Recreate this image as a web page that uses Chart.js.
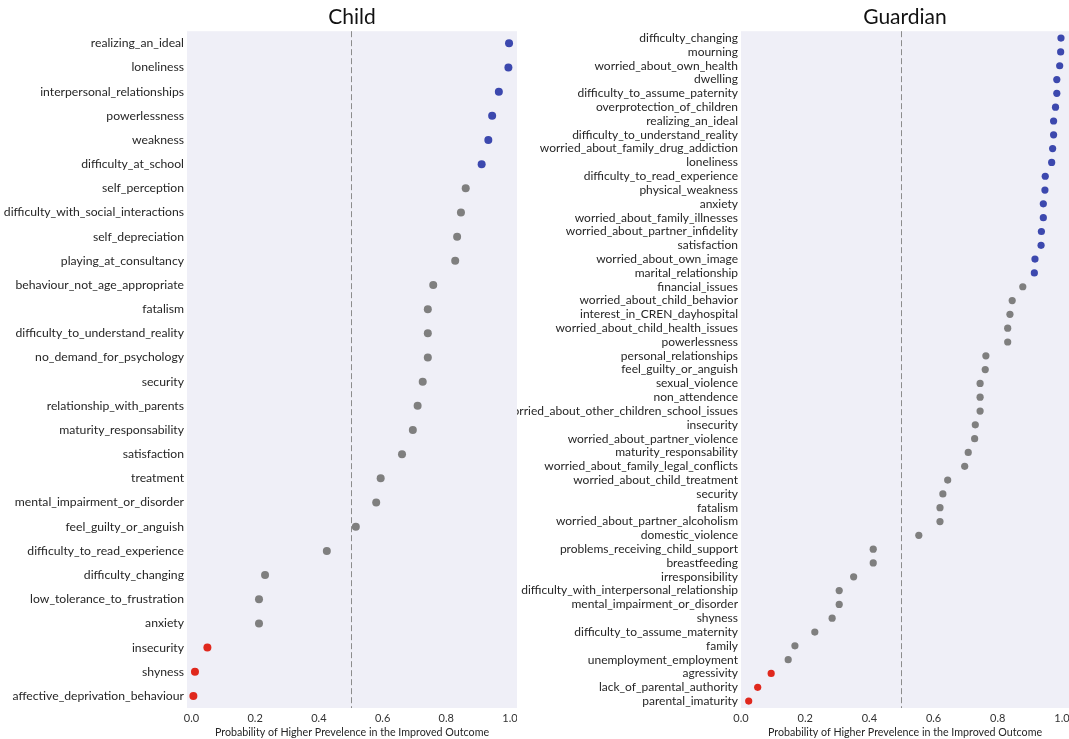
<!DOCTYPE html>
<html>
<head>
<meta charset="utf-8">
<script src="https://cdn.jsdelivr.net/npm/chart.js@4"></script>
<style>
  body { margin: 0; background: #fff; }
  #wrap { position: relative; width: 1069px; height: 739px; overflow: hidden; }
  .panel { position: absolute; top: 0; }
</style>
</head>
<body>
<div id="wrap">
  <div class="panel" style="left:0;width:517px;height:739px;"><canvas id="childChart" width="517" height="739"></canvas></div>
  <div class="panel" style="left:517px;width:552px;height:739px;"><canvas id="guardianChart" width="552" height="739"></canvas></div>
</div>
<script>
// Child panel
const childLabels = [
  "realizing_an_ideal", "loneliness", "interpersonal_relationships", "powerlessness",
  "weakness", "difficulty_at_school", "self_perception", "difficulty_with_social_interactions",
  "self_depreciation", "playing_at_consultancy", "behaviour_not_age_appropriate", "fatalism",
  "difficulty_to_understand_reality", "no_demand_for_psychology", "security",
  "relationship_with_parents", "maturity_responsability", "satisfaction", "treatment",
  "mental_impairment_or_disorder", "feel_guilty_or_anguish", "difficulty_to_read_experience",
  "difficulty_changing", "low_tolerance_to_frustration", "anxiety", "insecurity", "shyness",
  "affective_deprivation_behaviour"
];
const childValues = [
  0.997, 0.995, 0.965, 0.944, 0.932, 0.911, 0.861, 0.846, 0.834, 0.828, 0.759, 0.742,
  0.742, 0.742, 0.726, 0.710, 0.695, 0.661, 0.594, 0.580, 0.516, 0.425, 0.231, 0.212,
  0.212, 0.050, 0.011, 0.006
];

// Guardian panel
const guardianLabels = [
  "difficulty_changing", "mourning", "worried_about_own_health", "dwelling",
  "difficulty_to_assume_paternity", "overprotection_of_children", "realizing_an_ideal",
  "difficulty_to_understand_reality", "worried_about_family_drug_addiction", "loneliness",
  "difficulty_to_read_experience", "physical_weakness", "anxiety",
  "worried_about_family_illnesses", "worried_about_partner_infidelity", "satisfaction",
  "worried_about_own_image", "marital_relationship", "financial_issues",
  "worried_about_child_behavior", "interest_in_CREN_dayhospital",
  "worried_about_child_health_issues", "powerlessness", "personal_relationships",
  "feel_guilty_or_anguish", "sexual_violence", "non_attendence",
  "worried_about_other_children_school_issues", "insecurity", "worried_about_partner_violence",
  "maturity_responsability", "worried_about_family_legal_conflicts",
  "worried_about_child_treatment", "security", "fatalism", "worried_about_partner_alcoholism",
  "domestic_violence", "problems_receiving_child_support", "breastfeeding", "irresponsibility",
  "difficulty_with_interpersonal_relationship", "mental_impairment_or_disorder", "shyness",
  "difficulty_to_assume_maternity", "family", "unemployment_employment", "agressivity",
  "lack_of_parental_authority", "parental_imaturity"
];
const guardianValues = [
  0.997, 0.996, 0.993, 0.984, 0.984, 0.980, 0.974, 0.974, 0.971, 0.968, 0.948, 0.947,
  0.942, 0.942, 0.936, 0.935, 0.916, 0.914, 0.878, 0.845, 0.838, 0.831, 0.831, 0.763,
  0.761, 0.745, 0.745, 0.745, 0.730, 0.728, 0.708, 0.697, 0.644, 0.629, 0.620, 0.620,
  0.554, 0.412, 0.412, 0.351, 0.306, 0.306, 0.284, 0.230, 0.168, 0.147, 0.094, 0.052,
  0.024
];

const xTicks = [0, 0.2, 0.4, 0.6, 0.8, 1.0];
const xTitle = "Probability of Higher Prevelence in the Improved Outcome";

const FONT = "Lato, 'Open Sans', sans-serif";
const TEXT = "#262626";

// colour each dot by how far it is from chance
function dotColor(v) {
  if (v >= 0.9) return "#3c48ae";
  if (v <= 0.1) return "#e0281d";
  return "#7f7f7f";
}

// lavender plot background + dashed 0.5 reference line
const panelDecor = {
  id: "panelDecor",
  beforeDraw(chart) {
    const { ctx, chartArea } = chart;
    ctx.save();
    ctx.fillStyle = "#efeff7";
    ctx.fillRect(chartArea.left, chartArea.top, chartArea.right - chartArea.left, chartArea.bottom - chartArea.top);
    const x = chart.scales.x.getPixelForValue(0.5);
    ctx.strokeStyle = "#8c8c8c";
    ctx.lineWidth = 1;
    ctx.setLineDash([6, 3]);
    ctx.beginPath();
    ctx.moveTo(Math.round(x) + 0.5, chartArea.top);
    ctx.lineTo(Math.round(x) + 0.5, chartArea.bottom);
    ctx.stroke();
    ctx.restore();
  },
};

function makePanel(id, title, labels, values, opts) {
  const ctx = document.getElementById(id).getContext("2d");
  return new Chart(ctx, {
    type: "scatter",
    data: {
      datasets: [
        {
          data: labels.map((l, i) => ({ x: values[i], y: l })),
          pointRadius: opts.radius,
          pointHoverRadius: opts.radius,
          pointBorderWidth: 0,
          pointBackgroundColor: values.map(dotColor),
        },
      ],
    },
    options: {
      responsive: false,
      animation: false,
      layout: { padding: 0, autoPadding: false },
      plugins: {
        legend: { display: false },
        tooltip: { enabled: false },
        title: {
          display: true,
          fullSize: false,
          text: title,
          color: "#111",
          font: { family: FONT, size: 21, weight: "normal", lineHeight: 1.2 },
          padding: { top: 5, bottom: 1 },
        },
      },
      scales: {
        x: {
          type: "linear",
          min: opts.xMin,
          max: opts.xMax,
          grid: { display: false, drawTicks: false },
          border: { display: false },
          afterBuildTicks: (s) => { s.ticks = xTicks.map((v) => ({ value: v })); },
          afterFit: (s) => { s.height = 31; s.paddingLeft = 0; s.paddingRight = 0; },
          ticks: {
            color: "#333",
            padding: 4,
            font: { family: FONT, size: 11 },
            callback: (v) => Number(v).toFixed(1),
          },
          title: {
            display: true,
            text: xTitle,
            color: TEXT,
            padding: { top: 0, bottom: 0 },
            font: { family: FONT, size: 10.7 },
          },
        },
        y: {
          type: "category",
          labels: labels,
          offset: true,
          grid: { display: false, drawTicks: false },
          border: { display: false },
          afterFit: (s) => { s.width = opts.yWidth; s.paddingTop = 0; s.paddingBottom = 0; },
          ticks: {
            color: TEXT,
            padding: 3,
            autoSkip: false,
            font: { family: FONT, size: opts.labelSize },
          },
        },
      },
    },
    plugins: [panelDecor],
  });
}

makePanel("childChart", "Child", childLabels, childValues,
  { xMin: -0.014, xMax: 1.022, yWidth: 187, labelSize: 12.2, radius: 4 });
makePanel("guardianChart", "Guardian", guardianLabels, guardianValues,
  { xMin: 0, xMax: 1.022, yWidth: 224, labelSize: 12, radius: 3.6 });
</script>
</body>
</html>
